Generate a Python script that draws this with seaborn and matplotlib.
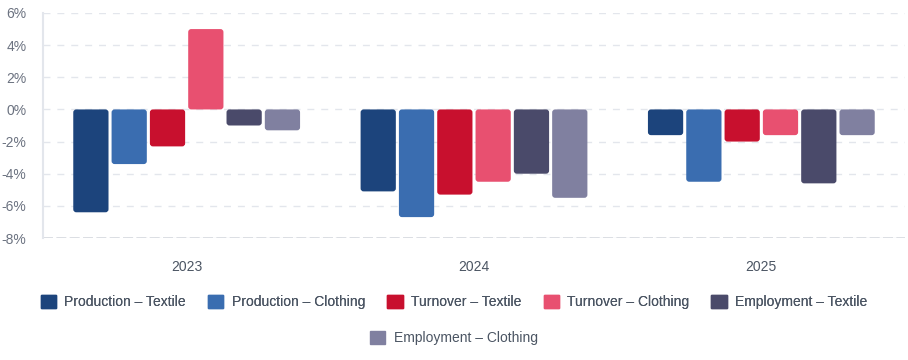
import matplotlib
matplotlib.use("Agg")
import matplotlib.pyplot as plt
import seaborn as sns
import pandas as pd
from matplotlib.patches import Patch, FancyBboxPatch
from matplotlib.ticker import FuncFormatter

years = ["2023", "2024", "2025"]
series = ["Production – Textile", "Production – Clothing", "Turnover – Textile",
          "Turnover – Clothing", "Employment – Textile", "Employment – Clothing"]
prod_textile = [-6.4, -5.1, -1.6]
prod_clothing = [-3.4, -6.7, -4.5]
turn_textile = [-2.3, -5.3, -2.0]
turn_clothing = [5.0, -4.5, -1.6]
empl_textile = [-1.0, -4.0, -4.6]
empl_clothing = [-1.3, -5.5, -1.6]
colors = ["#1c447c", "#3a6db0", "#c8102e", "#e85070", "#4a4a6a", "#8080a0"]

values = [prod_textile, prod_clothing, turn_textile, turn_clothing, empl_textile, empl_clothing]
rows = []
for s, vals in zip(series, values):
    for y, v in zip(years, vals):
        rows.append({"Year": y, "Series": s, "Value": v})
df = pd.DataFrame(rows)

sns.set_theme(style="white")
plt.rcParams['font.family'] = ['Liberation Sans', 'DejaVu Sans']

fig = plt.figure(figsize=(9.08, 3.6), dpi=100)
ax = fig.add_axes([43/908, 1-238/360, (905-43)/908, (238-13)/360])

sns.barplot(data=df, x="Year", y="Value", hue="Series", hue_order=series,
            palette=colors, width=0.8, gap=0.08, ax=ax, legend=False,
            saturation=1, errorbar=None)

ax.set_ylim(-8, 6)
ax.set_xlim(-0.5, 2.5)

# Replace rectangles with slightly rounded boxes
xr = 3.0 / 287.0     # ~3px in x data units
yr = 3.0 / 16.07     # ~3px in y data units
for p in list(ax.patches):
    x0, y0 = p.get_x(), p.get_y()
    w, h = p.get_width(), p.get_height()
    fc = p.get_facecolor()
    ylo, hh = (y0, h) if h >= 0 else (y0 + h, -h)
    p.remove()
    box = FancyBboxPatch((x0, ylo), w, hh,
                         boxstyle=f"round,pad=0,rounding_size={xr}",
                         mutation_aspect=yr / xr, facecolor=fc, edgecolor="none",
                         zorder=2)
    ax.add_patch(box)

ax.set_yticks(range(-8, 7, 2))
ax.yaxis.set_major_formatter(FuncFormatter(lambda v, p: f"{int(v)}%"))
ax.set_xlabel("")
ax.set_ylabel("")
ax.grid(axis="y", color="#e3e6ec", linestyle=(0, (5, 5)), linewidth=1)
ax.set_axisbelow(True)
ax.axhline(-8, color="#d6d9df", linestyle=(0, (6, 2)), linewidth=1.2, zorder=1)
for side in ["top", "right", "bottom"]:
    ax.spines[side].set_visible(False)
ax.spines["left"].set_color("#e3e6ec")
ax.spines["left"].set_linewidth(1.5)
ax.tick_params(axis="y", colors="#6b7280", labelsize=10, length=0, pad=12)
ax.tick_params(axis="x", colors="#4b5563", labelsize=10, length=0, pad=16)

handles = [Patch(facecolor=c, edgecolor=c) for c in colors]
leg1 = fig.legend(handles[:5], series[:5], loc="center", bbox_to_anchor=(0.5, 1-302/360),
                  ncol=5, frameon=False, fontsize=10, handlelength=1.1, handleheight=1.1,
                  columnspacing=1.6, handletextpad=0.6, labelcolor="#4b5563")
leg2 = fig.legend(handles[5:], series[5:], loc="center", bbox_to_anchor=(0.5, 1-338/360),
                  ncol=1, frameon=False, fontsize=10, handlelength=1.1, handleheight=1.1,
                  handletextpad=0.6, labelcolor="#4b5563")
fig.add_artist(leg1)

fig.savefig("out.png", dpi=100)
